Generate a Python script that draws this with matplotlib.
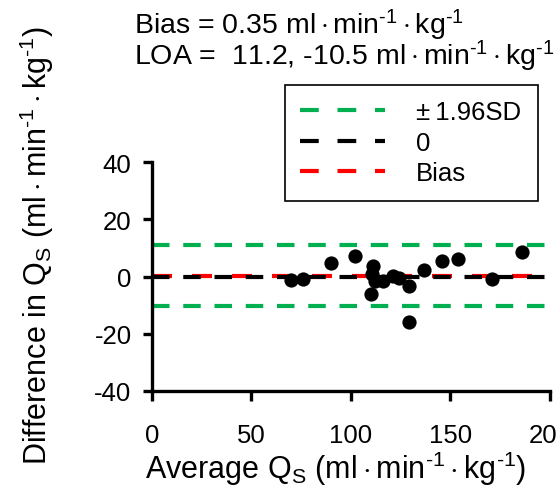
import matplotlib
matplotlib.use("Agg")
import matplotlib.pyplot as plt
from matplotlib.lines import Line2D

# ── Dados ────────────────────────────────────────────────────────────────────

avg_qs = [70, 76, 90, 102, 111, 110.5, 112, 116, 110, 121, 124, 129, 129,
          136.5, 146, 154, 171, 186]
diff_qs = [-1.3, -1.0, 4.8, 7.1, 3.7, 1.0, -1.5, -1.5, -6.2, 0.2, -0.6, -3.3,
           -16.1, 2.3, 5.6, 6.3, -1.0, 8.5]

bias = 0.35
loa_upper = 11.2
loa_lower = -10.5

x_ticks = [0, 50, 100, 150, 200]
y_ticks = [-40, -20, 0, 20, 40]

UNIT = (r"$\mathrm{ml}\cdot\mathrm{min}^{\text{-1}}"
        r"\cdot\mathrm{kg}^{\text{-1}}$")

# ── Estilo ───────────────────────────────────────────────────────────────────

plt.rcParams.update({
    "font.family": ["Liberation Sans", "DejaVu Sans"],
    "mathtext.fontset": "custom",
    "mathtext.rm": "Liberation Sans",
    "mathtext.it": "Liberation Sans",
    "axes.unicode_minus": False,
    "font.size": 18.5,
})

GREEN = "#00b050"
RED = "#ff0000"
LW = 3.0

fig = plt.figure(figsize=(5.57, 4.89), dpi=100)
ax = fig.add_axes([0.2724, 0.199, 0.715, 0.467])

ax.axhline(bias, color=RED, lw=LW, ls=(0, (4.8, 4.8)), zorder=1)
ax.axhline(0, color="black", lw=LW, ls=(0, (4.2, 3.3)), zorder=2)
ax.axhline(loa_upper, color=GREEN, lw=LW, ls=(0, (4.2, 3.3)), zorder=2)
ax.axhline(loa_lower, color=GREEN, lw=LW, ls=(0, (4.2, 3.3)), zorder=2)

ax.scatter(avg_qs, diff_qs, s=105, color="black", zorder=3, linewidths=0)

ax.set_xlim(0, 200)
ax.set_ylim(-40, 40)
ax.set_xticks(x_ticks)
ax.set_yticks(y_ticks)
ax.set_facecolor("none")
for s in ("top", "right"):
    ax.spines[s].set_visible(False)
for s in ("left", "bottom"):
    ax.spines[s].set_linewidth(2.4)
ax.tick_params(axis="y", direction="out", length=6.5, width=2.4, pad=8)
ax.tick_params(axis="x", direction="out", length=7, width=2.4, pad=16)

ax.set_xlabel("Average Q$_\\mathrm{S}$ (" + UNIT + ")", fontsize=22)
ax.xaxis.set_label_coords(0.462, -0.252)
ax.set_ylabel("Difference in Q$_\\mathrm{S}$ (" + UNIT + ")", fontsize=22)
ax.yaxis.set_label_coords(-0.24, 0.64)

fig.text(134 / 557, 1 - 34 / 489, "Bias = 0.35 " + UNIT, va="baseline",
         fontsize=20.5)
fig.text(134 / 557, 1 - 65 / 489, "LOA =  11.2, -10.5 " + UNIT,
         va="baseline", fontsize=20.5)

handles = [
    Line2D([], [], color=GREEN, lw=LW, ls=(0, (4.5, 4.5))),
    Line2D([], [], color="black", lw=LW, ls=(0, (4.5, 4.5))),
    Line2D([], [], color=RED, lw=LW, ls=(0, (4.5, 4.5))),
]
leg = fig.legend(handles, ["±\u20091.96SD", "0", "Bias"],
                 loc="upper left",
                 bbox_to_anchor=(285 / 557, 1 - 86 / 489, 253 / 557, 0.0),
                 mode="expand", fancybox=False, framealpha=1,
                 edgecolor="black", handlelength=3.3, handletextpad=1.2,
                 labelspacing=0.25, borderpad=0.6, borderaxespad=0)
leg.get_frame().set_linewidth(1.2)

fig.savefig("out.png", dpi=100, facecolor="white")
